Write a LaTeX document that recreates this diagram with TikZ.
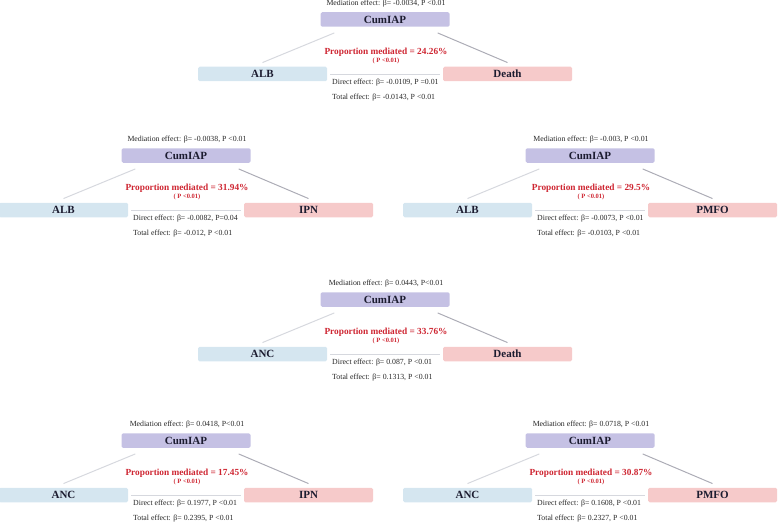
\documentclass[tikz,border=0pt]{standalone}
\usepackage{fontspec}
\setmainfont{Liberation Serif}
\usetikzlibrary{calc,positioning}

\definecolor{medfill}{RGB}{197,193,228}
\definecolor{expfill}{RGB}{213,230,240}
\definecolor{outfill}{RGB}{246,202,202}
\definecolor{propred}{RGB}{206,38,50}
\definecolor{boxtext}{RGB}{28,28,48}
\definecolor{linelight}{RGB}{214,216,222}
\definecolor{linedark}{RGB}{172,172,182}

\begin{document}
\begin{tikzpicture}[x=1pt,y=-1pt,
  varbox/.style={rounded corners=1.5pt,minimum width=129pt,minimum height=14.5pt,inner sep=0pt,
    text=boxtext,font=\fontsize{11}{12}\selectfont\bfseries},
  stat/.style={font=\fontsize{7.8}{8}\selectfont,inner sep=0pt,text=black!85},
  prop/.style={font=\fontsize{9.3}{10}\selectfont\bfseries,inner sep=0pt,text=propred},
  pval/.style={font=\fontsize{6.5}{7}\selectfont\bfseries,inner sep=0pt,text=propred}]
\useasboundingbox (0,0) rectangle (778,524);
\foreach \cx/\cy/\lft/\rgt/\med/\prop/\dir/\tot [count=\i] in {
  386/0/ALB/Death/{-0.0034, P <0.01}/24.26/{-0.0109, P =0.01}/{-0.0143, P <0.01},
  187/136/ALB/IPN/{-0.0038, P <0.01}/31.94/{-0.0082, P=0.04}/{-0.012, P <0.01},
  591/136/ALB/PMFO/{-0.003, P <0.01}/29.5/{-0.0073, P <0.01}/{-0.0103, P <0.01},
  386/280/ANC/Death/{0.0443, P<0.01}/33.76/{0.087, P <0.01}/{0.1313, P <0.01},
  187/421/ANC/IPN/{0.0418, P<0.01}/17.45/{0.1977, P <0.01}/{0.2395, P <0.01},
  591/421/ANC/PMFO/{0.0718, P <0.01}/30.87/{0.1608, P <0.01}/{0.2327, P <0.01}}{
  % mediator, exposure and outcome
  \node[varbox,fill=medfill] (m\i) at (\cx-1,\cy+19.5) {CumIAP};
  \node[varbox,fill=expfill] (l\i) at (\cx-123.5,\cy+74) {\lft};
  \node[varbox,fill=outfill] (r\i) at (\cx+121.5,\cy+74) {\rgt};
  \draw[linelight,line width=1pt] ($(m\i.south west)+(14,6)$) -- ($(l\i.north)+(0,-4)$);
  \draw[linedark,line width=1pt] ($(m\i.south east)+(-12,6)$) -- ($(r\i.north)+(0,-4)$);
  \draw[linelight,line width=0.8pt,shorten <=3pt,shorten >=3pt] (l\i.east) -- (r\i.west);
  % effects
  \node[stat] (e\i) at (\cx,\cy+4) {Mediation effect: β= \med};
  \node[prop] (p\i) at (\cx,\cy+52) {Proportion mediated = \prop\%};
  \node[pval] (q\i) at (\cx,\cy+61) {( P <0.01)};
  \node[stat,anchor=west] (d\i) at (\cx-54,\cy+82.5) {Direct effect: β= \dir};
  \node[stat,anchor=west] (t\i) at (\cx-54,\cy+97.5) {Total effect: β= \tot};
}
\end{tikzpicture}
\end{document}
